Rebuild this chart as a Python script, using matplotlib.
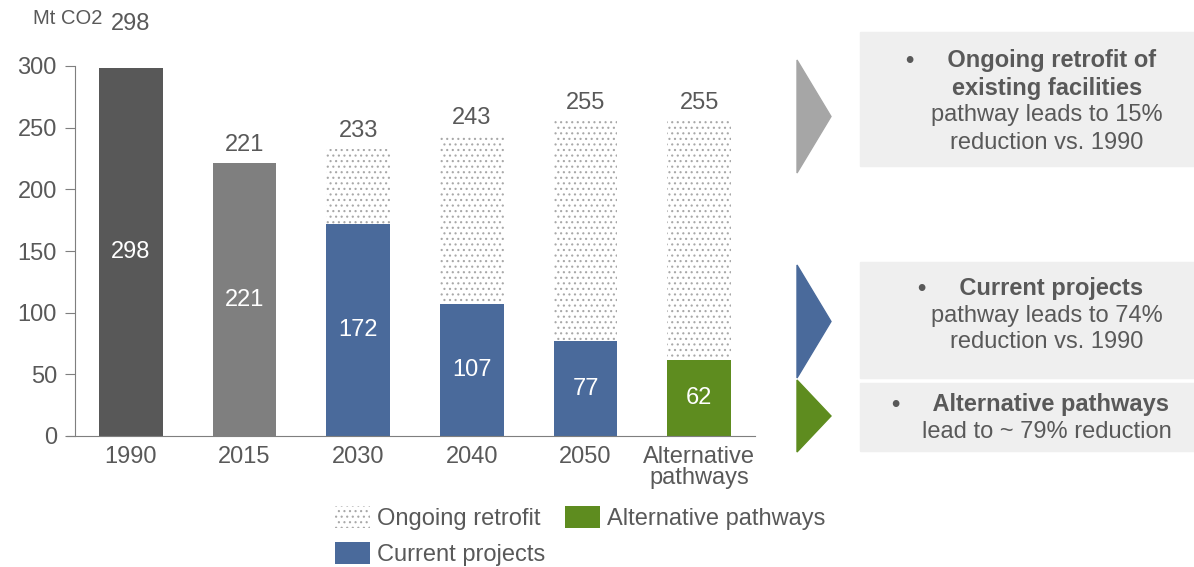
import matplotlib.pyplot as plt
from matplotlib.patches import Rectangle, Polygon, Patch
import numpy as np

plt.rcParams['font.family'] = ['Liberation Sans', 'DejaVu Sans']
plt.rcParams['hatch.linewidth'] = 0.8

# 数据
categories = ['1990', '2015', '2030', '2040', '2050', 'Alternative\npathways']
totals = [298, 221, 233, 243, 255, 255]
base_vals = [298, 221, 172, 107, 77, 62]
base_kind = ['hist1990', 'hist2015', 'current', 'current', 'current', 'alt']

TXT = '#595959'
FS = 17
HATCH_C = '#a8a8a8'
colors = {'hist1990': '#585858', 'hist2015': '#7f7f7f',
          'current': '#4a6a9b', 'alt': '#5e8c1f'}

W, H = 1194, 567
fig = plt.figure(figsize=(W / 100, H / 100), dpi=100)
ax = fig.add_axes([75 / W, 1 - 436 / H, (755 - 75) / W, (436 - 66) / H])

x = np.arange(len(categories))
bw = 0.56

# 底部柱
for xi, v, k in zip(x, base_vals, base_kind):
    ax.bar(xi, v, width=bw, color=colors[k], zorder=2)
    ax.text(xi, v / 2, str(v), ha='center', va='center', color='white', fontsize=FS)

# 点状“改造”部分
retro = [t - b if k in ('current', 'alt') else 0 for t, b, k in zip(totals, base_vals, base_kind)]
ax.bar(x, retro, bottom=base_vals, width=bw, color='white', edgecolor=HATCH_C,
       linewidth=0, hatch='...', zorder=1)

# 顶部数值
for xi, t in zip(x, totals):
    off = 32 if t > 290 else 13
    ax.annotate(str(t), (xi, t), xytext=(0, off), textcoords='offset points',
                ha='center', va='center', color=TXT, fontsize=FS, annotation_clip=False)

ax.set_xlim(-0.49, len(categories) - 0.51)
ax.set_ylim(0, 300)
ax.set_yticks(np.arange(0, 301, 50))
ax.set_xticks(x)
ax.set_xticklabels(categories, fontsize=FS, color=TXT, linespacing=0.95)
ax.tick_params(axis='y', labelsize=FS, labelcolor=TXT, color='#7f7f7f', length=7, direction='out', pad=6)
ax.tick_params(axis='x', length=0, pad=7)
for s in ['top', 'right']:
    ax.spines[s].set_visible(False)
ax.spines['left'].set_color('#7f7f7f')
ax.spines['bottom'].set_color('#7f7f7f')
ax.spines['bottom'].set_bounds(-0.56, len(categories) - 0.51)

fig.text(33 / W, 1 - 18 / H, 'Mt CO2', fontsize=14.5, color=TXT, va='center', ha='left')

# 图例
handles = [Patch(facecolor='white', edgecolor=HATCH_C, linewidth=0, hatch='...', label='Ongoing retrofit'),
           Patch(facecolor=colors['current'], label='Current projects'),
           Patch(facecolor=colors['alt'], label='Alternative pathways')]
leg = fig.legend(handles=handles, ncol=2, loc='upper left', bbox_to_anchor=(335 / W, 1 - 506 / H),
                 frameon=False, fontsize=FS, handlelength=1.5, handleheight=1.06, borderpad=0,
                 borderaxespad=0, columnspacing=0.8, labelspacing=0.5, handletextpad=0.3)
for t in leg.get_texts():
    t.set_color(TXT)


# 右侧说明框
def px_rect(x0, y0, x1, y1, color):
    fig.patches.append(Rectangle((x0 / W, 1 - y1 / H), (x1 - x0) / W, (y1 - y0) / H,
                                 transform=fig.transFigure, color=color, zorder=0))


def px_tri(y0, y1, color):
    pts = [(797 / W, 1 - y0 / H), (831 / W, 1 - (y0 + y1) / 2 / H), (797 / W, 1 - y1 / H)]
    fig.patches.append(Polygon(pts, closed=True, transform=fig.transFigure, color=color))


px_rect(860, 32, 1194, 166, '#efefef')
px_rect(860, 262, 1194, 378, '#efefef')
px_rect(860, 383, 1194, 451, '#efefef')
px_tri(60, 173, '#a6a6a6')
px_tri(265, 378, colors['current'])
px_tri(380, 452, colors['alt'])


def line(y, s, bold=False, cx=1047):
    fig.text(cx / W, 1 - y / H, s, ha='center', va='center', fontsize=FS, color=TXT,
             fontweight='bold' if bold else 'normal')

line(60, '•     Ongoing retrofit of', True, 1031)
line(88, 'existing facilities', True)
line(115, 'pathway leads to 15%')
line(143, 'reduction vs. 1990')
line(289, '•     Current projects', True, 1031)
line(316, 'pathway leads to 74%')
line(342, 'reduction vs. 1990')
line(405, '•     Alternative pathways', True, 1031)
line(432, 'lead to ~ 79% reduction')

fig.savefig('out.png', dpi=100)
